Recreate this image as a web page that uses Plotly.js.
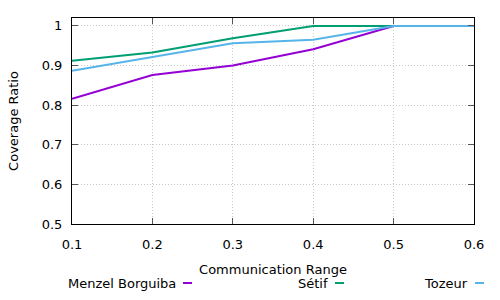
<!DOCTYPE html>
<html><head><meta charset="utf-8">
<script src="https://cdn.plot.ly/plotly-3.0.1.min.js"></script>
<style>html,body{margin:0;padding:0;background:#fff}#c{width:500px;height:300px}</style>
</head><body><div id="c"></div>
<script>
var ranges = [0.1, 0.2, 0.3, 0.4, 0.5, 0.6];
var menzel = [0.816, 0.876, 0.900, 0.941, 1.0, 1.0];
var setif = [0.912, 0.933, 0.969, 1.0, 1.0, 1.0];
var tozeur = [0.887, 0.922, 0.956, 0.965, 1.0, 1.0];
var names = ["Menzel Borguiba", "Sétif", "Tozeur"];
var colors = ["#9400d3", "#009e73", "#56b4e9"];
var xTicks = [0.1, 0.2, 0.3, 0.4, 0.5, 0.6];
var xTickText = ["0.1", "0.2", "0.3", "0.4", "0.5", "0.6"];
var yTicks = [0.5, 0.6, 0.7, 0.8, 0.9, 1.0];
var yTickText = ["0.5", "0.6", "0.7", "0.8", "0.9", "1"];

var series = [menzel, setif, tozeur];
var traces = series.map(function (s, i) {
  return {x: ranges, y: s, type: "scatter", mode: "lines", name: names[i],
          line: {color: colors[i], width: 2}, showlegend: false};
});

var font = {family: "DejaVu Sans", size: 13, color: "#000"};
var L = 72, W = 402, T = 18, H = 206;
function px(x) { return (x - L) / W; }
function py(y) { return (T + H - y) / H; }
var legendTextEnd = [178, 330, 470];
var legendY = 283;
var annotations = [], shapes = [];
names.forEach(function (n, i) {
  annotations.push({text: n, xref: "paper", yref: "paper", x: px(legendTextEnd[i]), y: py(legendY),
    xanchor: "right", yanchor: "middle", showarrow: false, font: font});
  shapes.push({type: "line", xref: "paper", yref: "paper",
    x0: px(legendTextEnd[i] + 5), x1: px(legendTextEnd[i] + 14), y0: py(legendY), y1: py(legendY),
    line: {color: colors[i], width: 2}});
});

var axisCommon = {showline: true, linecolor: "#000", linewidth: 1, mirror: "ticks",
  ticks: "inside", ticklen: 6, tickcolor: "#555", tickwidth: 1,
  showgrid: true, gridcolor: "#c8c8c8", griddash: "1px,2px", gridwidth: 1,
  zeroline: false, tickfont: font};

var layout = {
  width: 500, height: 300,
  margin: {l: L, r: 500 - L - W, t: T, b: 300 - T - H, pad: 0},
  paper_bgcolor: "#fff", plot_bgcolor: "#fff",
  font: font,
  xaxis: Object.assign({}, axisCommon, {range: [0.1, 0.6], tickvals: xTicks, ticktext: xTickText,
    ticklabelstandoff: 8,
    title: {text: "Communication Range", font: font, standoff: 14}}),
  yaxis: Object.assign({}, axisCommon, {range: [0.5, 1.02], tickvals: yTicks, ticktext: yTickText,
    ticklabelstandoff: 6,
    title: {text: "Coverage Ratio", font: font, standoff: 20}}),
  annotations: annotations,
  shapes: shapes,
  showlegend: false
};
Plotly.newPlot("c", traces, layout, {displayModeBar: false, staticPlot: true});
</script></body></html>
